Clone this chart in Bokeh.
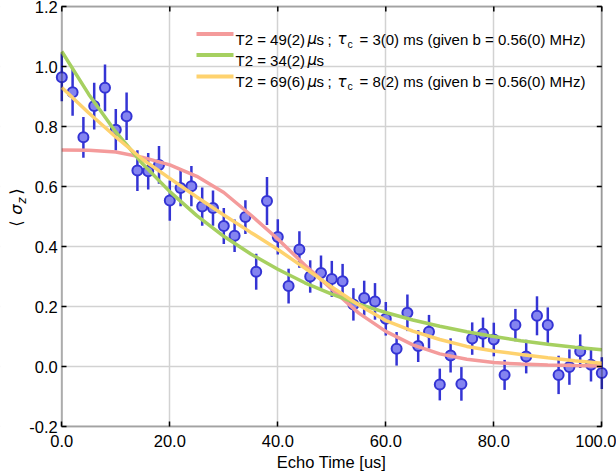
import numpy as np
from bokeh.plotting import figure
from bokeh.models import (FixedTicker, PrintfTickFormatter, Label, BoxAnnotation, Range1d,
                          ColumnDataSource)
from bokeh.embed import file_html
from bokeh.resources import INLINE

# ---------------- data ----------------
echo_time = [0, 2, 4, 6, 8, 10, 12, 14, 16, 18, 20, 22, 24, 26, 28, 30, 32, 34, 36, 38,
             40, 42, 44, 46, 48, 50, 52, 54, 56, 58, 60, 62, 64, 66, 68, 70, 72, 74, 76, 78,
             80, 82, 84, 86, 88, 90, 92, 94, 96, 98, 100]
sigma_z = [0.964, 0.914, 0.764, 0.868, 0.929, 0.789, 0.834, 0.653, 0.651, 0.672,
           0.553, 0.595, 0.601, 0.533, 0.528, 0.468, 0.436, 0.498, 0.316, 0.552,
           0.432, 0.268, 0.390, 0.300, 0.312, 0.292, 0.284, 0.207, 0.228, 0.217,
           0.159, 0.059, 0.179, 0.068, 0.116, -0.060, 0.037, -0.058, 0.093, 0.109,
           0.090, -0.028, 0.138, 0.033, 0.169, 0.138, -0.028, -0.002, 0.051, 0.006,
           -0.022]
sigma_err = [0.080, 0.078, 0.068, 0.078, 0.078, 0.069, 0.079, 0.068, 0.061, 0.063,
             0.067, 0.061, 0.067, 0.064, 0.059, 0.060, 0.054, 0.056, 0.060, 0.080,
             0.059, 0.058, 0.061, 0.054, 0.058, 0.060, 0.058, 0.054, 0.058, 0.061,
             0.056, 0.056, 0.061, 0.053, 0.056, 0.053, 0.057, 0.056, 0.054, 0.054,
             0.056, 0.050, 0.054, 0.056, 0.065, 0.059, 0.064, 0.059, 0.056, 0.056,
             0.053]

fit_time = [0, 5, 10, 15, 20, 25, 30, 35, 40, 45, 50, 55, 60, 65, 70, 75, 80, 85, 90, 95, 100]
fit_pink = [0.722, 0.721, 0.715, 0.697, 0.672, 0.634, 0.580, 0.505, 0.425, 0.338, 0.258,
            0.178, 0.117, 0.072, 0.042, 0.024, 0.013, 0.008, 0.005, 0.003, 0.002]
fit_green = [1.050, 0.907, 0.782, 0.675, 0.583, 0.503, 0.434, 0.375, 0.324, 0.279, 0.241,
             0.208, 0.180, 0.155, 0.134, 0.116, 0.100, 0.086, 0.074, 0.064, 0.056]
fit_yellow = [0.930, 0.845, 0.765, 0.690, 0.627, 0.565, 0.505, 0.447, 0.390, 0.328, 0.265,
              0.205, 0.153, 0.118, 0.090, 0.067, 0.052, 0.040, 0.029, 0.019, 0.011]

x_ticks = [0, 20, 40, 60, 80, 100]
y_ticks = [-0.2, 0.0, 0.2, 0.4, 0.6, 0.8, 1.0, 1.2]

legend_head = ["T2 = 49(2)", "T2 = 34(2)", "T2 = 69(6)"]
legend_tau = ["3(0)", None, "8(2)"]
legend_tail = " ms (given b = 0.56(0) MHz)"

# ---------------- style / layout ----------------
PINK = "#f49b9b"
GREEN = "#a6d060"
YELLOW = "#fed26e"
DOT_FILL = "#8484f0"
DOT_LINE = "#3434d4"
FONT = "Liberation Sans"
MATH = "DejaVu Sans"

W, H = 616, 476
PX_T0 = 61.3      # pixel column of t = 0
PX_PER_T = 5.4    # pixels per microsecond
PY_V0 = 366.0     # pixel row of sigma_z = 0
PY_PER_V = 300.0  # pixels per unit of sigma_z

x_lo, x_hi = x_ticks[0], x_ticks[-1]
y_lo, y_hi = y_ticks[0], y_ticks[-1]

p = figure(width=W, height=H, output_backend="svg", toolbar_location=None,
           x_range=Range1d(-PX_T0 / PX_PER_T, (W - PX_T0) / PX_PER_T),
           y_range=Range1d((PY_V0 - H) / PY_PER_V, PY_V0 / PY_PER_V),
           min_border_left=0, min_border_right=0, min_border_top=0, min_border_bottom=0)
p.background_fill_color = "white"
p.border_fill_color = "white"
p.outline_line_color = None

for ax in (p.xaxis[0], p.yaxis[0]):
    ax.major_tick_in = 5
    ax.major_tick_out = 0
    ax.minor_tick_line_color = None
    ax.major_tick_line_color = "black"
    ax.major_tick_line_width = 1.5
    ax.axis_line_color = None
    ax.major_label_text_font = FONT
    ax.major_label_text_font_size = "16.5px"
    ax.major_label_text_color = "black"
    ax.axis_label_text_font = FONT
    ax.axis_label_text_font_size = "16.5px"
    ax.axis_label_text_font_style = "normal"
    ax.axis_label_text_color = "black"
    ax.formatter = PrintfTickFormatter(format="%.1f")

p.xaxis.fixed_location = y_lo
p.yaxis.fixed_location = x_lo
p.xaxis.bounds = (x_lo, x_hi)
p.yaxis.bounds = (y_lo, y_hi)
p.xaxis.ticker = FixedTicker(ticks=x_ticks)
p.yaxis.ticker = FixedTicker(ticks=y_ticks)
p.xaxis.axis_label = "Echo Time [us]"
p.xaxis.major_label_standoff = 8
p.xaxis.axis_label_standoff = 3
p.yaxis.major_label_standoff = 4

p.xgrid.ticker = FixedTicker(ticks=x_ticks)
p.ygrid.ticker = FixedTicker(ticks=y_ticks)
p.grid.grid_line_color = "#d2d2d2"
p.grid.grid_line_width = 1.5

# white masks so that grid lines stay inside the axes box
far = 1000
for l, r, b, t in [(-far, x_lo, -far, far), (x_hi, far, -far, far),
                   (-far, far, y_hi, far), (-far, far, -far, y_lo)]:
    p.add_layout(BoxAnnotation(left=l, right=r, bottom=b, top=t, fill_color="white",
                               fill_alpha=1, line_color=None, level="underlay"))

# ---------------- marks ----------------
t = np.array(echo_time, dtype=float)
v = np.array(sigma_z)
e = np.array(sigma_err)
src = ColumnDataSource(dict(t=t, v=v, lo=v - e, hi=v + e))
p.segment(x0="t", y0="lo", x1="t", y1="hi", source=src, line_color=DOT_LINE, line_width=2.5)
p.scatter(x="t", y="v", source=src, size=10, fill_color=DOT_FILL, line_color=DOT_LINE,
          line_width=2)

p.line(fit_time, fit_pink, line_color=PINK, line_width=3.5)
p.line(fit_time, fit_green, line_color=GREEN, line_width=3.5)
p.line(fit_time, fit_yellow, line_color=YELLOW, line_width=3.5)

# axes box and the inward ticks on the top and right sides
p.add_layout(BoxAnnotation(left=x_lo, right=x_hi, bottom=y_lo, top=y_hi, fill_alpha=0,
                           line_color="black", line_width=2))
tick_v = 5 / PY_PER_V
tick_t = 5 / PX_PER_T
xt = np.array(x_ticks, dtype=float)
yt = np.array(y_ticks, dtype=float)
p.segment(x0=xt, y0=np.full_like(xt, y_hi), x1=xt, y1=np.full_like(xt, y_hi - tick_v),
          line_color="black", line_width=1.5)
p.segment(x0=np.full_like(yt, x_hi), y0=yt, x1=np.full_like(yt, x_hi - tick_t), y1=yt,
          line_color="black", line_width=1.5)

# ---------------- legend (manual, for the sub/italic math parts) ----------------
row_y = [33.5, 54.5, 76.0]     # pixel rows of the legend swatches, from the top
colors = [PINK, GREEN, YELLOW]


def lab(text, x, y_top, size="15px", font=FONT, style="normal"):
    p.add_layout(Label(x=x, y=H - y_top, x_units="screen", y_units="screen", text=text,
                       text_font=font, text_font_size=size, text_font_style=style,
                       text_color="black", text_baseline="alphabetic"))


for ry, col, head, tau in zip(row_y, colors, legend_head, legend_tau):
    p.add_layout(BoxAnnotation(left=196, right=233, bottom=H - ry - 2, top=H - ry + 2,
                               left_units="screen", right_units="screen",
                               bottom_units="screen", top_units="screen",
                               fill_color=col, fill_alpha=1, line_color=None))
    base = ry + 5
    lab(head, 235, base)
    lab("\u03bc", 307, base, font=MATH, style="italic")
    lab("s", 316, base)
    if tau is not None:
        lab(";", 327, base)
        lab("\u03c4", 337, base, font=MATH, style="italic")
        lab("c", 347, base + 4.5, size="10.5px")
        lab("= " + tau + legend_tail, 359, base)


# ---------------- y axis label  < sigma_z > ----------------
def ylab(text, x, y_top, size="16.5px", style="normal"):
    p.add_layout(Label(x=x, y=H - y_top, x_units="screen", y_units="screen", text=text,
                       angle=np.pi / 2, text_font=MATH, text_font_size=size,
                       text_font_style=style, text_color="black",
                       text_align="center", text_baseline="middle"))


ylab("\u27e8", 16, 223)
ylab("\u03c3", 16, 209, style="italic")
ylab("z", 21, 200, size="12px", style="italic")
ylab("\u27e9", 16, 191)

open("out.html", "w").write(file_html(p, INLINE))
